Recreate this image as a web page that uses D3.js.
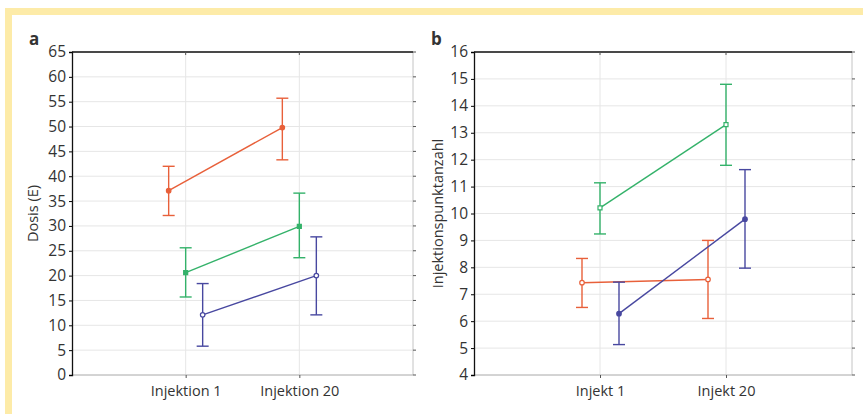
<!DOCTYPE html>
<html>
<head>
<meta charset="utf-8">
<script src="https://cdn.jsdelivr.net/npm/d3@7"></script>
<style>
  body { margin: 0; background: #fff; }
  text { font-family: "Open Sans", "Noto Sans", sans-serif; fill: #333; }
</style>
</head>
<body>
<svg id="chart" width="863" height="414"></svg>
<script>
// panel a: Dosis (E)
var catsA = ["Injektion 1", "Injektion 20"];
var redA = [37.1, 49.8], redALo = [32.1, 43.3], redAHi = [42.0, 55.7];
var greenA = [20.6, 29.9], greenALo = [15.7, 23.6], greenAHi = [25.6, 36.6];
var blueA = [12.1, 20.0], blueALo = [5.8, 12.1], blueAHi = [18.4, 27.8];
var ticksA = d3.range(0, 66, 5);

// panel b: Injektionspunktanzahl
var catsB = ["Injekt 1", "Injekt 20"];
var redB = [7.43, 7.55], redBLo = [6.51, 6.1], redBHi = [8.33, 9.0];
var greenB = [10.21, 13.3], greenBLo = [9.24, 11.79], greenBHi = [11.14, 14.8];
var blueB = [6.28, 9.79], blueBLo = [5.13, 7.97], blueBHi = [7.45, 11.63];
var ticksB = d3.range(4, 17, 1);

var colors = { red: "#e8603a", green: "#34b26a", blue: "#4848a0" };

var svg = d3.select("#chart");

// yellow frame
svg.append("rect").attr("x", 5).attr("y", 8).attr("width", 858).attr("height", 7).attr("fill", "#fdeba8");
svg.append("rect").attr("x", 5).attr("y", 8).attr("width", 7).attr("height", 406).attr("fill", "#fdeba8");

function panel(opt) {
  var m = opt.box;
  var w = m.right - m.left, h = m.bottom - m.top;
  var g = svg.append("g").attr("transform", "translate(" + m.left + "," + m.top + ")");

  var x = d3.scalePoint().domain(opt.cats).range([0, w]).padding(1);
  var y = d3.scaleLinear().domain(opt.ydom).range([h, 0]);

  // grid
  g.append("g").selectAll("line").data(opt.ticks).enter().append("line")
    .attr("x1", 0).attr("x2", w)
    .attr("y1", function(d) { return y(d); }).attr("y2", function(d) { return y(d); })
    .attr("stroke", "#e6e6e6");
  g.append("g").selectAll("line").data(opt.cats).enter().append("line")
    .attr("x1", function(d) { return x(d); }).attr("x2", function(d) { return x(d); })
    .attr("y1", 0).attr("y2", h)
    .attr("stroke", "#e6e6e6");

  // frame
  g.append("line").attr("x1", w).attr("x2", w).attr("y1", 0).attr("y2", h).attr("stroke", "#c4c4c4");
  g.append("line").attr("x1", 0).attr("x2", w).attr("y1", h).attr("y2", h).attr("stroke", "#b4b4b4");
  g.append("line").attr("x1", 0).attr("x2", w).attr("y1", 0).attr("y2", 0).attr("stroke", "#111").attr("stroke-width", 1.3);

  // right ticks
  g.append("g").selectAll("line").data(opt.ticks).enter().append("line")
    .attr("x1", w).attr("x2", w + 3)
    .attr("y1", function(d) { return y(d); }).attr("y2", function(d) { return y(d); })
    .attr("stroke", "#555");
  // top ticks
  g.append("g").selectAll("line").data(opt.cats).enter().append("line")
    .attr("x1", function(d) { return x(d); }).attr("x2", function(d) { return x(d); })
    .attr("y1", 0).attr("y2", 3).attr("stroke", "#555");

  var ya = g.append("g").call(d3.axisLeft(y).tickValues(opt.ticks).tickSize(3).tickPadding(3));
  ya.select(".domain").attr("stroke", "#111").attr("stroke-width", 1.3);
  ya.selectAll("text").attr("font-size", 15.5).attr("fill", "#333")
    .attr("font-family", "'Open Sans', sans-serif");

  var xa = g.append("g").attr("transform", "translate(0," + h + ")")
    .call(d3.axisBottom(x).tickSize(3).tickPadding(8));
  xa.select(".domain").remove();
  xa.selectAll("line").attr("stroke", "#555");
  xa.selectAll("text").attr("font-size", 14.5).attr("fill", "#333")
    .attr("font-family", "'Open Sans', sans-serif");

  // y label
  g.append("text")
    .attr("transform", "translate(" + opt.ylabelX + "," + (h / 2) + ") rotate(-90)")
    .attr("text-anchor", "middle")
    .attr("font-size", 14.5)
    .text(opt.ylabel);

  // panel letter
  svg.append("text").attr("x", opt.letterX).attr("y", 45)
    .attr("font-size", 17).attr("font-weight", "bold").attr("fill", "#222")
    .text(opt.letter);

  opt.series.forEach(function(s) {
    var pts = opt.cats.map(function(c, i) {
      return { x: x(c) + s.dx[i], v: s.mean[i], lo: s.lo[i], hi: s.hi[i] };
    });
    var col = colors[s.color];
    g.append("path").datum(pts)
      .attr("fill", "none").attr("stroke", col).attr("stroke-width", 1.4)
      .attr("d", d3.line().x(function(d) { return d.x; }).y(function(d) { return y(d.v); }));
    var eb = g.append("g").selectAll("g").data(pts).enter().append("g").attr("stroke", col).attr("stroke-width", 1.4);
    eb.append("line")
      .attr("x1", function(d) { return d.x; }).attr("x2", function(d) { return d.x; })
      .attr("y1", function(d) { return y(d.lo); }).attr("y2", function(d) { return y(d.hi); });
    eb.append("line")
      .attr("x1", function(d) { return d.x - 6; }).attr("x2", function(d) { return d.x + 6; })
      .attr("y1", function(d) { return y(d.lo); }).attr("y2", function(d) { return y(d.lo); });
    eb.append("line")
      .attr("x1", function(d) { return d.x - 6; }).attr("x2", function(d) { return d.x + 6; })
      .attr("y1", function(d) { return y(d.hi); }).attr("y2", function(d) { return y(d.hi); });
    g.append("g").selectAll("path").data(pts).enter().append("path")
      .attr("transform", function(d) { return "translate(" + d.x + "," + y(d.v) + ")"; })
      .attr("d", d3.symbol().type(s.shape === "square" ? d3.symbolSquare : d3.symbolCircle).size(16))
      .attr("stroke", col).attr("stroke-width", 1.2)
      .attr("fill", s.filled ? col : "#fff");
  });
}

panel({
  box: { left: 72, top: 52, right: 413, bottom: 375 },
  cats: catsA, ydom: [0, 65], ticks: ticksA,
  ylabel: "Dosis (E)", ylabelX: -34, letter: "a", letterX: 29,
  series: [
    { color: "red", mean: redA, lo: redALo, hi: redAHi, dx: [-17, -17], shape: "circle", filled: true },
    { color: "green", mean: greenA, lo: greenALo, hi: greenAHi, dx: [0, 0], shape: "square", filled: true },
    { color: "blue", mean: blueA, lo: blueALo, hi: blueAHi, dx: [17, 17], shape: "circle", filled: false }
  ]
});

panel({
  box: { left: 474, top: 52, right: 852, bottom: 375 },
  cats: catsB, ydom: [4, 16], ticks: ticksB,
  ylabel: "Injektionspunktanzahl", ylabelX: -31, letter: "b", letterX: 431,
  series: [
    { color: "red", mean: redB, lo: redBLo, hi: redBHi, dx: [-18, -18], shape: "circle", filled: false },
    { color: "green", mean: greenB, lo: greenBLo, hi: greenBHi, dx: [0, 0], shape: "square", filled: false },
    { color: "blue", mean: blueB, lo: blueBLo, hi: blueBHi, dx: [19, 19], shape: "circle", filled: true }
  ]
});
</script>
</body>
</html>
